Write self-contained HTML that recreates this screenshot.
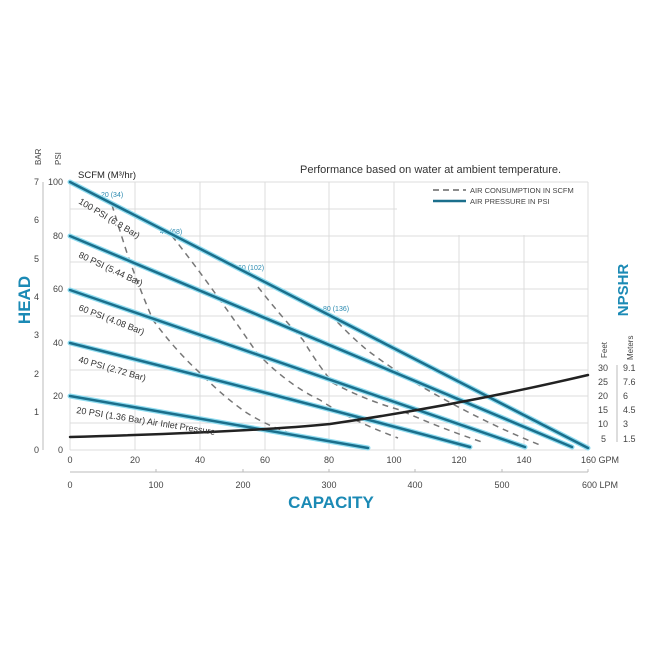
<!DOCTYPE html>
<html><head><meta charset="utf-8"><style>
body{margin:0;background:#fff}
svg{display:block;font-family:"Liberation Sans",sans-serif}
</style></head><body>
<svg width="650" height="650" viewBox="0 0 650 650">
<rect width="650" height="650" fill="#fff"/>
<g stroke="#dcdcdc" stroke-width="1">
<line x1="70" y1="182" x2="588" y2="182"/>
<line x1="70" y1="209" x2="397" y2="209"/>
<line x1="70" y1="236" x2="588" y2="236"/>
<line x1="70" y1="262" x2="588" y2="262"/>
<line x1="70" y1="289" x2="588" y2="289"/>
<line x1="70" y1="316" x2="588" y2="316"/>
<line x1="70" y1="343" x2="588" y2="343"/>
<line x1="70" y1="370" x2="588" y2="370"/>
<line x1="70" y1="396" x2="588" y2="396"/>
<line x1="70" y1="423" x2="588" y2="423"/>
<line x1="70" y1="450" x2="588" y2="450"/>
<line x1="70" y1="182" x2="70" y2="450"/>
<line x1="135" y1="182" x2="135" y2="450"/>
<line x1="200" y1="182" x2="200" y2="450"/>
<line x1="265" y1="182" x2="265" y2="450"/>
<line x1="329" y1="182" x2="329" y2="450"/>
<line x1="394" y1="182" x2="394" y2="450"/>
<line x1="459" y1="235" x2="459" y2="450"/>
<line x1="524" y1="235" x2="524" y2="450"/>
<line x1="588" y1="182" x2="588" y2="450"/>
</g>
<rect x="398" y="184" width="189" height="50" fill="#fff"/>
<line x1="433" y1="190" x2="466" y2="190" stroke="#666" stroke-width="1.5" stroke-dasharray="6,4"/>
<line x1="433" y1="201" x2="466" y2="201" stroke="#1b6f8c" stroke-width="2.5"/>
<text x="470" y="193" font-size="7.5" fill="#444">AIR CONSUMPTION IN SCFM</text>
<text x="470" y="204" font-size="7.5" fill="#444">AIR PRESSURE IN PSI</text>
<text x="300" y="173" font-size="11" fill="#333">Performance based on water at ambient temperature.</text>
<text x="78" y="178" font-size="9.5" fill="#222">SCFM (M³/hr)</text>
<g fill="none" stroke="#777" stroke-width="1.5" stroke-dasharray="6,5">
<path d="M112,205 Q118,225 127,253 Q140,290 153,320 Q175,350 200,373 Q225,398 247,413 Q268,426 290,433"/>
<path d="M172,236 Q195,265 220,300 Q240,328 257,353 Q288,385 320,400 Q350,420 398,438"/>
<path d="M258,287 Q280,315 303,340 Q318,365 333,383 Q365,400 400,410 Q440,428 482,442"/>
<path d="M330,314 Q348,334 367,350 Q400,375 440,397 Q490,425 540,445"/>
</g>
<g font-size="7" fill="#2a8ab0">
<text x="101" y="197">20 (34)</text>
<text x="160" y="234">40 (68)</text>
<text x="238" y="270">60 (102)</text>
<text x="323" y="311">80 (136)</text>
</g>
<g fill="none" stroke-linecap="round">
<g stroke="#8fdcf0" stroke-width="5">
<path d="M70,182 Q320,310 588,448"/>
<path d="M70,236 Q320,342 572,447"/>
<path d="M70,290 Q300,370 525,447"/>
<path d="M70,343 Q270,393 470,447"/>
<path d="M70,396 Q220,422 368,448"/>
</g>
<g stroke="#1b6f8c" stroke-width="2.5">
<path d="M70,182 Q320,310 588,448"/>
<path d="M70,236 Q320,342 572,447"/>
<path d="M70,290 Q300,370 525,447"/>
<path d="M70,343 Q270,393 470,447"/>
<path d="M70,396 Q220,422 368,448"/>
</g>
<path d="M70,437 Q250,432 330,424 Q460,405 588,375" stroke="#222" stroke-width="2.5"/>
</g>
<g font-size="9" fill="#333">
<text transform="translate(78,203) rotate(31)">100 PSI (6.8 Bar)</text>
<text transform="translate(78,257) rotate(25)">80 PSI (5.44 Bar)</text>
<text transform="translate(78,310) rotate(21)">60 PSI (4.08 Bar)</text>
<text transform="translate(78,362) rotate(16)">40 PSI (2.72 Bar)</text>
<text transform="translate(76,413) rotate(9)">20 PSI (1.36 Bar) Air Inlet Pressure</text>
</g>
<line x1="43" y1="182" x2="43" y2="450" stroke="#bbb"/>
<g font-size="9" fill="#444" text-anchor="end">
<text x="39" y="185">7</text><text x="39" y="223">6</text><text x="39" y="262">5</text><text x="39" y="300">4</text><text x="39" y="338">3</text><text x="39" y="377">2</text><text x="39" y="415">1</text><text x="39" y="453">0</text>
<text x="63" y="185">100</text><text x="63" y="239">80</text><text x="63" y="292">60</text><text x="63" y="346">40</text><text x="63" y="399">20</text><text x="63" y="453">0</text>
</g>
<g font-size="8" fill="#444">
<text transform="translate(41,165) rotate(-90)">BAR</text>
<text transform="translate(61,165) rotate(-90)">PSI</text>
</g>
<text transform="translate(30,300) rotate(-90)" font-size="17" font-weight="bold" fill="#1b8ab5" text-anchor="middle">HEAD</text>
<g font-size="9" fill="#444" text-anchor="middle">
<text x="70" y="463">0</text><text x="135" y="463">20</text><text x="200" y="463">40</text><text x="265" y="463">60</text><text x="329" y="463">80</text><text x="394" y="463">100</text><text x="459" y="463">120</text><text x="524" y="463">140</text><text x="600" y="463">160 GPM</text>
<text x="70" y="488">0</text><text x="156" y="488">100</text><text x="243" y="488">200</text><text x="329" y="488">300</text><text x="415" y="488">400</text><text x="502" y="488">500</text><text x="600" y="488">600 LPM</text>
</g>
<line x1="70" y1="472" x2="588" y2="472" stroke="#bbb"/>
<g stroke="#bbb"><line x1="156" y1="469" x2="156" y2="472"/><line x1="243" y1="469" x2="243" y2="472"/><line x1="329" y1="469" x2="329" y2="472"/><line x1="415" y1="469" x2="415" y2="472"/><line x1="502" y1="469" x2="502" y2="472"/><line x1="588" y1="469" x2="588" y2="472"/></g>
<text x="331" y="508" font-size="17" font-weight="bold" fill="#1b8ab5" text-anchor="middle">CAPACITY</text>
<line x1="617" y1="365" x2="617" y2="442" stroke="#bbb"/>
<g font-size="9" fill="#444">
<text x="598" y="371">30</text><text x="598" y="385">25</text><text x="598" y="399">20</text><text x="598" y="413">15</text><text x="598" y="427">10</text><text x="601" y="442">5</text>
<text x="623" y="371">9.1</text><text x="623" y="385">7.6</text><text x="623" y="399">6</text><text x="623" y="413">4.5</text><text x="623" y="427">3</text><text x="623" y="442">1.5</text>
</g>
<g font-size="8" fill="#444">
<text transform="translate(607,358) rotate(-90)">Feet</text>
<text transform="translate(633,360) rotate(-90)">Meters</text>
</g>
<text transform="translate(628,290) rotate(-90)" font-size="15" font-weight="bold" fill="#1b8ab5" text-anchor="middle">NPSHR</text>
</svg>
</body></html>
